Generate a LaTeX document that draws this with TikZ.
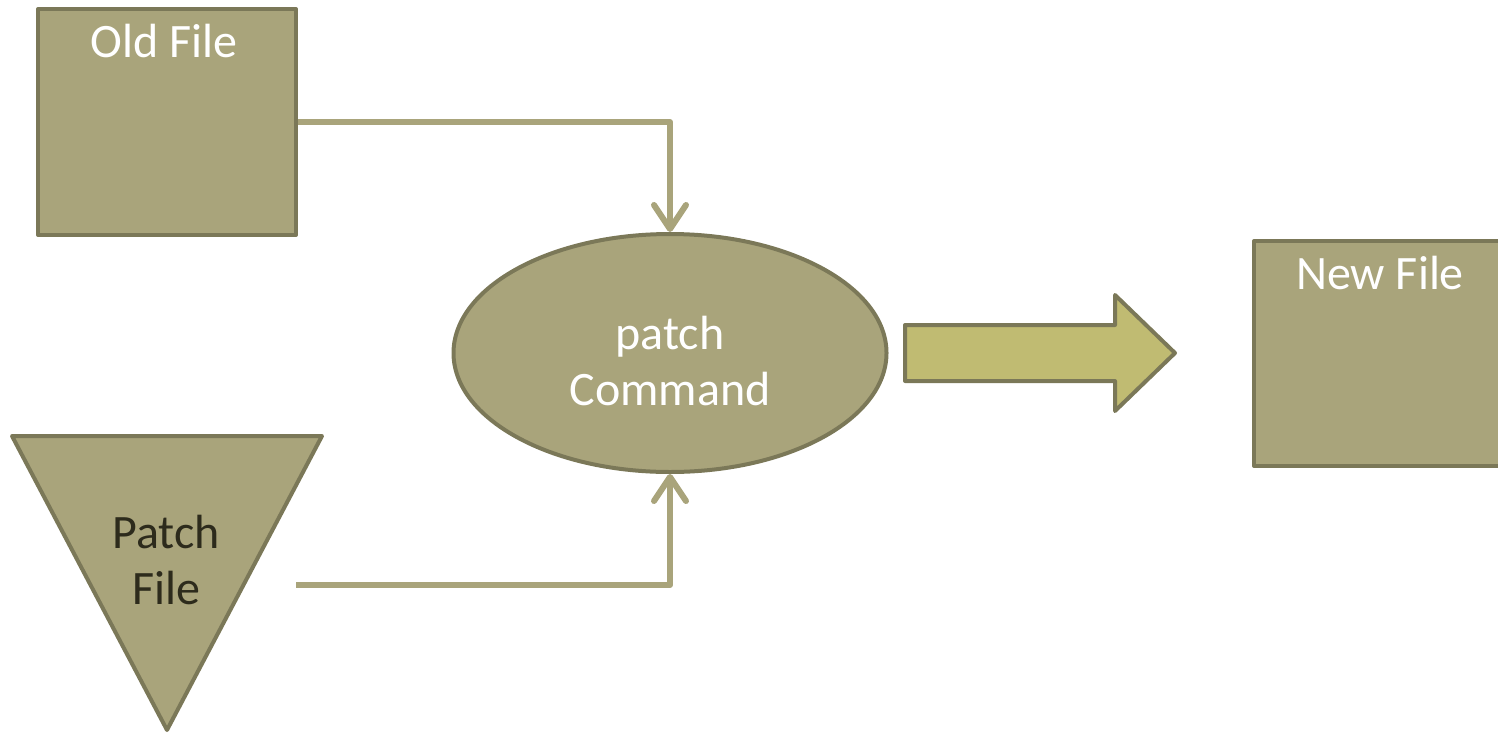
\documentclass[tikz,border=0pt]{standalone}
\usepackage{fontspec}
\setmainfont{Carlito}
\usetikzlibrary{shapes.geometric,arrows.meta}
\definecolor{olivefill}{HTML}{A9A47B}
\definecolor{olivedark}{HTML}{7B7858}
\definecolor{arrowfill}{HTML}{C0BB72}
\definecolor{darktext}{HTML}{2D2B1C}
\tikzset{
  filebox/.style={draw=olivedark, fill=olivefill, line width=2pt, line join=round},
  lbl/.style={text=white, font=\fontsize{24}{28}\selectfont, inner sep=0pt, align=center},
  flow/.style={draw=olivefill, line width=3pt, line join=round,
    -{Straight Barb[length=12pt, width=16pt, line cap=round, line join=round]}}
}
\begin{document}
\begin{tikzpicture}[x=0.5pt, y=-0.5pt]
  \useasboundingbox (0,0) rectangle (1498,734);
  \clip (0,0) rectangle (1498,734);

  % input and output files
  \node[filebox, minimum width=129pt, minimum height=113pt, inner sep=0pt] (old) at (167,122) {};
  \node[lbl] (oldlbl) at (164,41) {Old File};
  \node[filebox, minimum width=129pt, minimum height=112.5pt, inner sep=0pt] (new) at (1383,353.5) {};
  \node[lbl] (newlbl) at (1380,273) {New File};

  % patch file (inverted triangle)
  \draw[filebox] (12,436) -- (322,436) -- (167,730) -- cycle;
  \node[lbl, text=darktext] (patchlbl) at (166,560) {Patch\\File};

  % the patch command
  \node[filebox, ellipse, minimum width=216.5pt, minimum height=119pt, inner sep=0pt] (cmd) at (670,353) {};
  \node[lbl] (cmdlbl) at (670,361) {patch\\Command};

  % result arrow
  \draw[draw=olivedark, fill=arrowfill, line width=2pt, line join=round]
    (905,325) -- (1115,325) -- (1115,295) -- (1175,353) -- (1115,411) -- (1115,381) -- (905,381) -- cycle;

  % connectors into the command
  \coordinate (pstart) at (296,585);
  \draw[flow] (old.east |- 0,122) -| (cmd.north);
  \draw[flow] (pstart) -| (cmd.south);
\end{tikzpicture}
\end{document}
